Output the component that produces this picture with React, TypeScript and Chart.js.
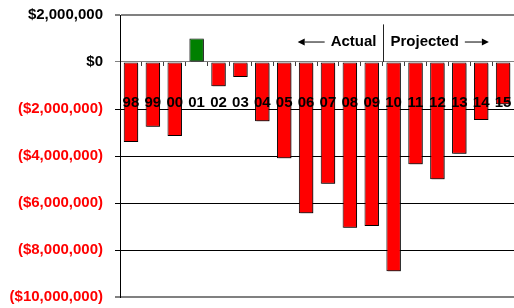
import React, { useEffect, useRef } from 'react';
import { Chart, registerables } from 'chart.js';

Chart.register(...registerables);

const categories = ['98', '99', '00', '01', '02', '03', '04', '05', '06', '07', '08', '09', '10', '11', '12', '13', '14', '15'];
const netValues = [-3400000, -2750000, -3150000, 1000000, -1030000, -640000, -2520000, -4100000, -6440000, -5180000, -7050000, -6980000, -8900000, -4350000, -4990000, -3900000, -2470000, -1800000];
const yTicks = [2000000, 0, -2000000, -4000000, -6000000, -8000000, -10000000];
const firstProjected = '10';
const actualLabel = 'Actual';
const projectedLabel = 'Projected';

const FONT = '"Liberation Sans", Arial, sans-serif';

const fmtMoney = (v: number) => {
  const s = '$' + Math.abs(v).toLocaleString('en-US');
  return v < 0 ? `(${s})` : s;
};

const zeroPadding = (s: any) => {
  s.paddingLeft = 0;
  s.paddingRight = 0;
  s.paddingTop = 0;
  s.paddingBottom = 0;
};

const shadowPlugin = {
  id: 'barShadow',
  beforeDatasetDraw(chart: any) {
    const ctx = chart.ctx;
    ctx.save();
    ctx.shadowColor = 'rgba(0,0,0,0.45)';
    ctx.shadowOffsetX = 1.5;
    ctx.shadowOffsetY = 1.5;
    ctx.shadowBlur = 0;
  },
  afterDatasetDraw(chart: any) {
    chart.ctx.restore();
  },
};

const drawArrow = (ctx: CanvasRenderingContext2D, x0: number, x1: number, y: number) => {
  const dir = x1 > x0 ? 1 : -1;
  const head = 7;
  ctx.beginPath();
  ctx.moveTo(x0, y);
  ctx.lineTo(x1 - dir * head, y);
  ctx.stroke();
  ctx.beginPath();
  ctx.moveTo(x1, y);
  ctx.lineTo(x1 - dir * head, y - 3.5);
  ctx.lineTo(x1 - dir * head, y + 3.5);
  ctx.closePath();
  ctx.fill();
};

const annotationPlugin = {
  id: 'actualProjected',
  afterDatasetsDraw(chart: any) {
    const { ctx, scales } = chart;
    const x = scales.x;
    const y = scales.y;
    const idx = categories.indexOf(firstProjected);
    const xDiv = Math.round((x.getPixelForValue(idx - 1) + x.getPixelForValue(idx)) / 2) + 0.5;
    const yTop = y.getPixelForValue(1600000);
    const yBot = y.getPixelForValue(0);
    const yText = y.getPixelForValue(850000);
    ctx.save();
    ctx.strokeStyle = '#222';
    ctx.fillStyle = '#000';
    ctx.lineWidth = 1;
    ctx.beginPath();
    ctx.moveTo(xDiv, yTop);
    ctx.lineTo(xDiv, yBot);
    ctx.stroke();
    ctx.font = `bold 15px ${FONT}`;
    ctx.textBaseline = 'middle';
    ctx.textAlign = 'right';
    ctx.fillText(actualLabel, xDiv - 7, yText);
    const aw = ctx.measureText(actualLabel).width;
    ctx.textAlign = 'left';
    ctx.fillText(projectedLabel, xDiv + 7, yText);
    const pw = ctx.measureText(projectedLabel).width;
    ctx.strokeStyle = '#000';
    drawArrow(ctx, xDiv - 7 - aw - 6, xDiv - 7 - aw - 33, yText);
    drawArrow(ctx, xDiv + 7 + pw + 6, xDiv + 7 + pw + 30, yText);
    ctx.restore();
  },
};

export default function App() {
  const canvasRef = useRef<HTMLCanvasElement | null>(null);

  useEffect(() => {
    if (!canvasRef.current) return;
    Chart.defaults.font.family = FONT;
    const chart = new Chart(canvasRef.current, {
      type: 'bar',
      data: {
        labels: categories,
        datasets: [
          {
            data: netValues,
            backgroundColor: netValues.map((v) => (v >= 0 ? '#008000' : '#FF0000')),
            borderColor: '#000000',
            borderWidth: 1,
            borderSkipped: false,
            barPercentage: 0.66,
            categoryPercentage: 1,
          },
        ],
      },
      options: {
        animation: false,
        responsive: false,
        layout: { padding: { top: 15, bottom: 11, left: 0, right: 0 } },
        plugins: {
          legend: { display: false },
          tooltip: { enabled: false },
          title: { display: false },
        },
        scales: {
          x: {
            position: { y: 0 } as any,
            offset: true,
            afterFit: zeroPadding,
            grid: {
              display: true,
              drawOnChartArea: false,
              drawTicks: true,
              tickLength: 4,
              offset: true,
              color: '#404040',
            },
            border: { display: false },
            ticks: {
              z: 1,
              color: '#000',
              font: { family: FONT, size: 15, weight: 'bold' },
              padding: 28,
              maxRotation: 0,
              autoSkip: false,
            },
          },
          y: {
            min: -10000000,
            max: 2000000,
            afterBuildTicks: (s: any) => {
              s.ticks = yTicks.map((v) => ({ value: v }));
            },
            afterFit: (s: any) => {
              s.width = 120;
              zeroPadding(s);
            },
            grid: {
              color: (c: any) =>
                c.tick && (c.tick.value === 2000000 || c.tick.value === -10000000 || c.tick.value === 0)
                  ? '#808080'
                  : '#000000',
              lineWidth: (c: any) =>
                c.tick && (c.tick.value === 2000000 || c.tick.value === -10000000) ? 2 : 1,
              tickLength: 5,
            },
            border: { display: true, color: '#000', width: 1 },
            ticks: {
              padding: 12,
              font: { family: FONT, size: 15, weight: 'bold' },
              color: (c: any) => (c.tick && c.tick.value < 0 ? '#FF0000' : '#000000'),
              callback: (v: any) => fmtMoney(Number(v)),
            },
          },
        },
      },
      plugins: [shadowPlugin, annotationPlugin],
    });
    return () => chart.destroy();
  }, []);

  return (
    <div style={{ position: 'fixed', left: 0, top: 0, width: 514, height: 308, background: '#fff' }}>
      <canvas ref={canvasRef} width={514} height={308} />
    </div>
  );
}
